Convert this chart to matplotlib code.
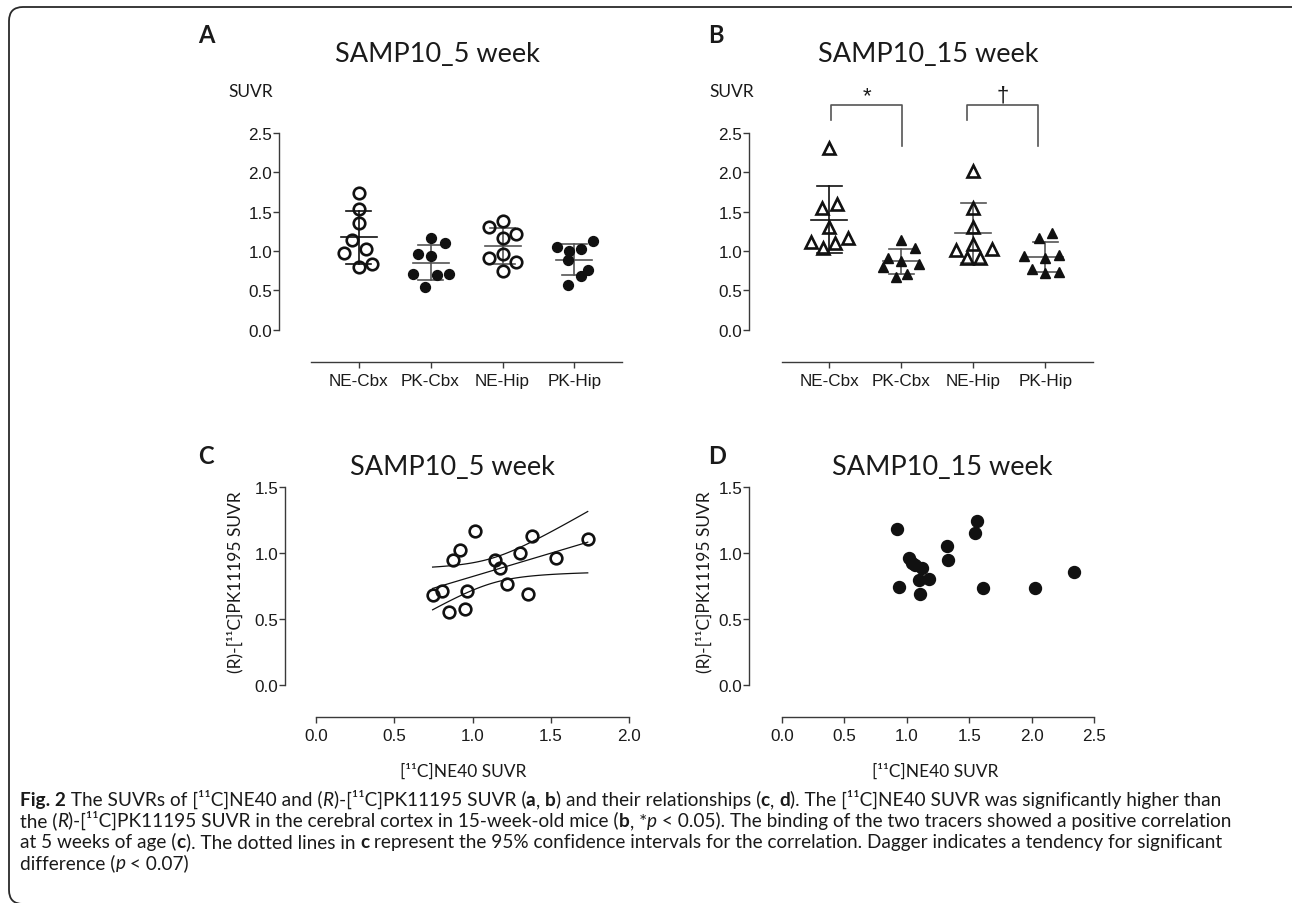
import numpy as np
import matplotlib
matplotlib.use('Agg')
import matplotlib.pyplot as plt
from matplotlib import font_manager
from matplotlib.patches import FancyBboxPatch
from matplotlib.transforms import IdentityTransform

W, H = 1292, 904

# ---- data ----
cats = ['NE-Cbx', 'PK-Cbx', 'NE-Hip', 'PK-Hip']

# panel A, 5 week
ne_cbx_5 = [1.74, 1.53, 1.35, 1.14, 1.02, 0.97, 0.84, 0.80]
pk_cbx_5 = [1.165, 1.106, 0.958, 0.94, 0.71, 0.69, 0.71, 0.547]
ne_hip_5 = [1.38, 1.30, 1.216, 1.17, 0.958, 0.915, 0.864, 0.742]
pk_hip_5 = [1.127, 1.05, 0.996, 1.025, 0.886, 0.763, 0.686, 0.572]
# horizontal scatter offsets (category units)
off_a = [[0, 0, 0, -0.097, 0.097, -0.2, 0.19, 0],
         [0, 0.204, -0.18, 0, -0.24, 0.093, 0.255, -0.07],
         [0, -0.194, 0.194, 0, 0, -0.194, 0.194, 0],
         [0.255, -0.24, -0.079, 0.088, -0.088, 0.194, 0.088, -0.088]]

# panel B, 15 week
ne_cbx_15 = [2.311, 1.542, 1.597, 1.311, 1.113, 1.034, 1.101, 1.168]
pk_cbx_15 = [1.143, 1.038, 0.908, 0.870, 0.836, 0.794, 0.714, 0.668]
ne_hip_15 = [2.013, 1.55, 1.311, 1.088, 1.008, 1.025, 0.912, 0.912]
pk_hip_15 = [1.231, 1.172, 0.933, 0.908, 0.945, 0.777, 0.718, 0.731]
off_b = [[0, -0.10, 0.10, 0, -0.26, -0.083, 0.078, 0.253],
         [0, 0.19, -0.19, 0, 0.244, -0.253, 0.078, -0.078],
         [0, 0, 0, 0, -0.244, 0.253, -0.088, 0.092],
         [0.092, -0.092, -0.295, 0, 0.194, -0.184, 0, 0.194]]

# panel C, 5 week correlation
ne40_5 = [0.744, 0.806, 0.846, 0.872, 0.917, 0.966, 0.953, 1.017,
          1.145, 1.175, 1.217, 1.301, 1.356, 1.380, 1.535, 1.736]
pk_5 = [0.683, 0.713, 0.551, 0.951, 1.025, 0.713, 0.577, 1.166,
        0.946, 0.888, 0.767, 0.999, 0.688, 1.128, 0.961, 1.111]

# panel D, 15 week correlation
ne40_15 = [0.922, 0.938, 1.021, 1.042, 1.066, 1.125, 1.101, 1.175,
           1.106, 1.325, 1.330, 1.546, 1.559, 1.607, 2.026, 2.335]
pk_15 = [1.183, 0.741, 0.964, 0.929, 0.909, 0.888, 0.797, 0.807,
         0.688, 1.056, 0.947, 1.157, 1.246, 0.739, 0.739, 0.855]

TXT = '#1a1a1a'
AXC = '#3a3a3a'
TICKFONT = 'Liberation Sans'
LABFONT = ['Lato', 'DejaVu Sans']

# condensed face for the caption if one is installed
installed = {f.name for f in font_manager.fontManager.ttflist}
CAPFONT = ['Liberation Sans Narrow', 'DejaVu Sans'] if 'Liberation Sans Narrow' in installed else LABFONT

fig = plt.figure(figsize=(W / 100, H / 100), dpi=100)


def rect(l, t, r, b):
    return [l / W, 1 - b / H, (r - l) / W, (b - t) / H]


def ftext(x, y, s, **kw):
    return fig.text(x / W, 1 - y / H, s, **kw)


def style(ax, xb, yb, xlim, ylim, xticks, yticks, xlabels=None):
    ax.set_xlim(*xlim)
    ax.set_ylim(*ylim)
    for s in ['top', 'right']:
        ax.spines[s].set_visible(False)
    for s in ['left', 'bottom']:
        ax.spines[s].set_color(AXC)
        ax.spines[s].set_linewidth(1.0)
    ax.spines['left'].set_bounds(*yb)
    ax.spines['bottom'].set_bounds(*xb)
    ax.set_xticks(xticks)
    ax.set_yticks(yticks)
    ax.set_yticklabels(['%.1f' % v for v in yticks])
    if xlabels is None:
        ax.set_xticklabels(['%.1f' % v for v in xticks])
    else:
        ax.set_xticklabels(xlabels)
    ax.tick_params(axis='both', color=AXC, width=1.0, length=4,
                   labelsize=12.3, labelcolor=TXT)
    ax.tick_params(axis='y', pad=1)
    ax.tick_params(axis='x', pad=4)
    for lab in ax.get_xticklabels() + ax.get_yticklabels():
        lab.set_family(TICKFONT)
    ax.patch.set_alpha(0)


def dot_panel(ax, groups, offs, open_marker, fill_marker, msize):
    for i, (vals, off) in enumerate(zip(groups, offs)):
        vals = np.array(vals)
        xs = i + np.array(off)
        is_open = (i % 2 == 0)
        m = open_marker if is_open else fill_marker
        lc = '#111111' if i == 0 else '#555555'
        mean = vals.mean()
        sd = vals.std(ddof=1)
        ax.plot([i - 0.25, i + 0.25], [mean, mean], color=lc, lw=1.2, zorder=2)
        ax.plot([i, i], [mean - sd, mean + sd], color=lc, lw=1.2, zorder=2)
        for yy in (mean - sd, mean + sd):
            ax.plot([i - 0.17, i + 0.17], [yy, yy], color=lc, lw=1.2, zorder=2)
        if is_open:
            ax.plot(xs, vals, ls='none', marker=m, ms=msize, mfc='none',
                    mec='#111111', mew=1.9, zorder=3)
        else:
            ax.plot(xs, vals, ls='none', marker=m, ms=msize - 1.2, mfc='#111111',
                    mec='#111111', mew=1.0, zorder=3)


# ---- panel A ----
axA = fig.add_axes(rect(279, 134, 622, 363))
style(axA, (-0.66, 3.66), (0, 2.5), (-1.105, 3.66), (-0.41, 2.5),
      range(4), [0, 0.5, 1.0, 1.5, 2.0, 2.5], cats)
dot_panel(axA, [ne_cbx_5, pk_cbx_5, ne_hip_5, pk_hip_5], off_a, 'o', 'o', 8.3)

# ---- panel B ----
axB = fig.add_axes(rect(749, 134, 1093, 363))
style(axB, (-0.66, 3.66), (0, 2.5), (-1.115, 3.66), (-0.41, 2.5),
      range(4), [0, 0.5, 1.0, 1.5, 2.0, 2.5], cats)
dot_panel(axB, [ne_cbx_15, pk_cbx_15, ne_hip_15, pk_hip_15], off_b, '^', '^', 8.7)
# significance brackets
for x0, x1, mark in [(0.03, 1.01, '*'), (1.91, 2.9, '\u2020')]:
    axB.plot([x0, x0, x1, x1], [2.67, 2.86, 2.86, 2.34], color='#555555',
             lw=1.2, clip_on=False)
    axB.text((x0 + x1) / 2, 2.98, mark, ha='center', va='center', fontsize=16,
             family=['Liberation Sans', 'DejaVu Sans'], color=TXT, clip_on=False)

# ---- panel C ----
axC = fig.add_axes(rect(285, 488.3, 629, 718.3))
style(axC, (0, 2.0), (0, 1.5), (-0.2, 2.0), (-0.245, 1.5),
      [0, 0.5, 1.0, 1.5, 2.0], [0, 0.5, 1.0, 1.5])
xc = np.array(ne40_5)
yc = np.array(pk_5)
slope, icpt = np.polyfit(xc, yc, 1)
n = len(xc)
resid = yc - (slope * xc + icpt)
s_err = np.sqrt(np.sum(resid ** 2) / (n - 2))
t_crit = 2.145  # t(0.975, df=14)
xx = np.linspace(xc.min(), xc.max(), 100)
yy = slope * xx + icpt
half = t_crit * s_err * np.sqrt(1 / n + (xx - xc.mean()) ** 2 / np.sum((xc - xc.mean()) ** 2))
axC.plot(xx, yy, color='#111111', lw=0.9, zorder=2)
axC.plot(xx, yy + half, color='#111111', lw=0.9, zorder=2)
axC.plot(xx, yy - half, color='#111111', lw=0.9, zorder=2)
axC.plot(xc, yc, ls='none', marker='o', ms=8.4, mfc='none', mec='#111111',
         mew=1.9, zorder=3)

# ---- panel D ----
axD = fig.add_axes(rect(749.3, 488.3, 1094.3, 718.3))
style(axD, (0, 2.5), (0, 1.5), (-0.26, 2.5), (-0.245, 1.5),
      [0, 0.5, 1.0, 1.5, 2.0, 2.5], [0, 0.5, 1.0, 1.5])
axD.plot(ne40_15, pk_15, ls='none', marker='o', ms=8.6, mfc='#111111',
         mec='#111111', zorder=3)

# ---- titles, panel letters, axis labels ----
for x, y, s in [(437, 62, 'SAMP10_5 week'), (928, 62, 'SAMP10_15 week'),
                (452, 475, 'SAMP10_5 week'), (942, 475, 'SAMP10_15 week')]:
    ftext(x, y, s, ha='center', va='baseline', fontsize=19.5, family=LABFONT, color=TXT)
for x, y, s in [(198, 43, 'A'), (708, 43, 'B'), (198, 464, 'C'), (708, 464, 'D')]:
    ftext(x, y, s, ha='left', va='baseline', fontsize=17, fontweight='bold',
          family=LABFONT, color=TXT)
for x in (251, 732):
    ftext(x, 97, 'SUVR', ha='center', va='baseline', fontsize=12.5, family=LABFONT, color=TXT)
for x in (235, 704):
    ftext(x, 582, '(R)-[\u00b9\u00b9C]PK11195 SUVR', ha='center', va='center',
          rotation=90, fontsize=12.5, family=LABFONT, color=TXT)
for x in (463, 935):
    ftext(x, 772, '[\u00b9\u00b9C]NE40 SUVR', ha='center', va='center',
          fontsize=12.5, family=LABFONT, color=TXT)

# ---- caption ----
cap_lines = [
    [('Fig. 2', 'b'), (' The SUVRs of [\u00b9\u00b9C]NE40 and (', 'n'), ('R', 'i'),
     (')-[\u00b9\u00b9C]PK11195 SUVR (', 'n'), ('a', 'b'), (', ', 'n'), ('b', 'b'),
     (') and their relationships (', 'n'), ('c', 'b'), (', ', 'n'), ('d', 'b'),
     ('). The [\u00b9\u00b9C]NE40 SUVR was significantly higher than', 'n')],
    [('the (', 'n'), ('R', 'i'),
     (')-[\u00b9\u00b9C]PK11195 SUVR in the cerebral cortex in 15-week-old mice (', 'n'),
     ('b', 'b'), (', *', 'n'), ('p', 'i'),
     (' < 0.05). The binding of the two tracers showed a positive correlation', 'n')],
    [('at 5 weeks of age (', 'n'), ('c', 'b'), ('). The dotted lines in ', 'n'), ('c', 'b'),
     (' represent the 95% confidence intervals for the correlation. Dagger indicates a tendency for significant', 'n')],
    [('difference (', 'n'), ('p', 'i'), (' < 0.07)', 'n')],
]
renderer = fig.canvas.get_renderer()
styles = {'n': {}, 'b': {'fontweight': 'bold'}, 'i': {'fontstyle': 'italic'}}


def draw_line(parts, x, y, size, keep=True):
    drawn = []
    for s, st in parts:
        t = ftext(x, y, s, ha='left', va='baseline', fontsize=size,
                  family=CAPFONT, color=TXT, **styles[st])
        x += t.get_window_extent(renderer=renderer).width
        drawn.append(t)
    if not keep:
        for t in drawn:
            t.remove()
    return x


# fit the caption size so that the first line ends where it does in the figure
probe = draw_line(cap_lines[0], 20, 806, 12, keep=False)
cap_size = 12 * (1212 - 20) / (probe - 20)
for k, parts in enumerate(cap_lines):
    draw_line(parts, 20, 806 + 21 * k, cap_size)

# rounded frame around the whole figure
frame = FancyBboxPatch((9, -1), 1320, 897, boxstyle='round,pad=0,rounding_size=14',
                       transform=IdentityTransform(), fill=False,
                       edgecolor='#2a2a2a', lw=1.3)
fig.add_artist(frame)

fig.savefig('out.png', dpi=100)
